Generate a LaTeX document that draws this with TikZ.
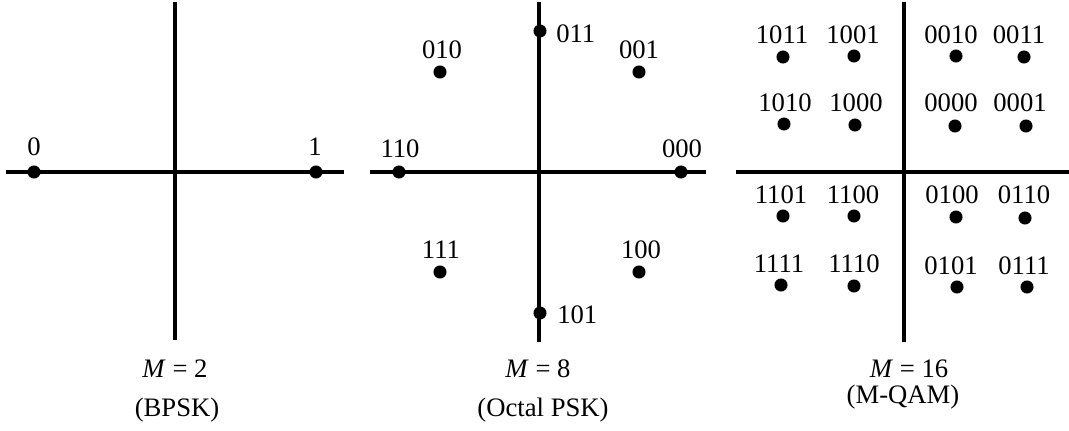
\documentclass[tikz,border=0pt]{standalone}
\usepackage{fontspec}
\setmainfont{Liberation Serif}
\begin{document}
\begin{tikzpicture}[x=0.75pt,y=-0.75pt,
  axis/.style={line width=2.4pt},
  pt/.style={circle,fill=black,inner sep=0pt,minimum size=9.8pt},
  lbl/.style={anchor=base,inner sep=0pt,font=\fontsize{20}{22}\selectfont},
  lblw/.style={anchor=base west,inner sep=0pt,font=\fontsize{20}{22}\selectfont},
  captxt/.style={anchor=base,inner sep=0pt,font=\fontsize{20}{22}\selectfont}]
\useasboundingbox (0,0) rectangle (1069,430);
% ---------- Panel 1: BPSK
\coordinate (a1t) at (175,2); \coordinate (a1b) at (175,340);
\coordinate (a1l) at (6,172); \coordinate (a1r) at (344,172);
\draw[axis] (a1t) -- (a1b);
\draw[axis] (a1l) -- (a1r);
\node[pt] (b0) at (34,172) {};
\node[pt] (b1) at (316,172) {};
\node[lbl] (lb0) at (34,155) {0};
\node[lbl] (lb1) at (315,155) {1};
\node[captxt] (c1a) at (175,377) {\textit{M} = 2};
\node[captxt] (c1b) at (177,416) {(BPSK)};
% ---------- Panel 2: 8-PSK
\coordinate (a2t) at (539,2); \coordinate (a2b) at (539,342);
\coordinate (a2l) at (370,172); \coordinate (a2r) at (706,172);
\draw[axis] (a2t) -- (a2b);
\draw[axis] (a2l) -- (a2r);
\node[pt] (p011) at (540,31) {};
\node[pt] (p001) at (639,72) {};
\node[pt] (p010) at (440,72) {};
\node[pt] (p110) at (399,172) {};
\node[pt] (p000) at (681,172) {};
\node[pt] (p111) at (440,272) {};
\node[pt] (p100) at (639,272) {};
\node[pt] (p101) at (540,313) {};
\node[lblw] (l011) at (556,42) {011};
\node[lbl] (l010) at (442,58) {010};
\node[lbl] (l001) at (639,58) {001};
\node[lbl] (l110) at (400,157) {110};
\node[lbl] (l000) at (682,157) {000};
\node[lbl] (l111) at (441,258) {111};
\node[lbl] (l100) at (641,258) {100};
\node[lblw] (l101) at (557,323) {101};
\node[captxt] (c2a) at (538,377) {\textit{M} = 8};
\node[captxt] (c2b) at (543,416) {(Octal PSK)};
% ---------- Panel 3: 16-QAM
\coordinate (a3t) at (904,2); \coordinate (a3b) at (904,342);
\coordinate (a3l) at (736,172); \coordinate (a3r) at (1069,172);
\draw[axis] (a3t) -- (a3b);
\draw[axis] (a3l) -- (a3r);
\foreach \name/\dx/\dy/\lx/\ly in {
  1011/783/57/782/43, 1001/854/56/853/43, 0010/956/56/951/43, 0011/1024/57/1019/43,
  1010/784/124/785/111, 1000/855/125/856/111, 0000/955/126/951/111, 0001/1026/126/1020/111,
  1101/783/216/781/203, 1100/854/216/853/203, 0100/956/217/952/203, 0110/1025/218/1024/203,
  1111/781/285/779/272, 1110/854/286/854/272, 0101/957/287/951/274, 0111/1027/287/1024/274}{
  \node[pt] (q\name) at (\dx,\dy) {};
  \node[lbl] (ql\name) at (\lx,\ly) {\name};
}
\node[captxt] (c3a) at (909,377) {\textit{M} = 16};
\node[captxt] (c3b) at (903,403) {(M-QAM)};
\end{tikzpicture}
\end{document}
